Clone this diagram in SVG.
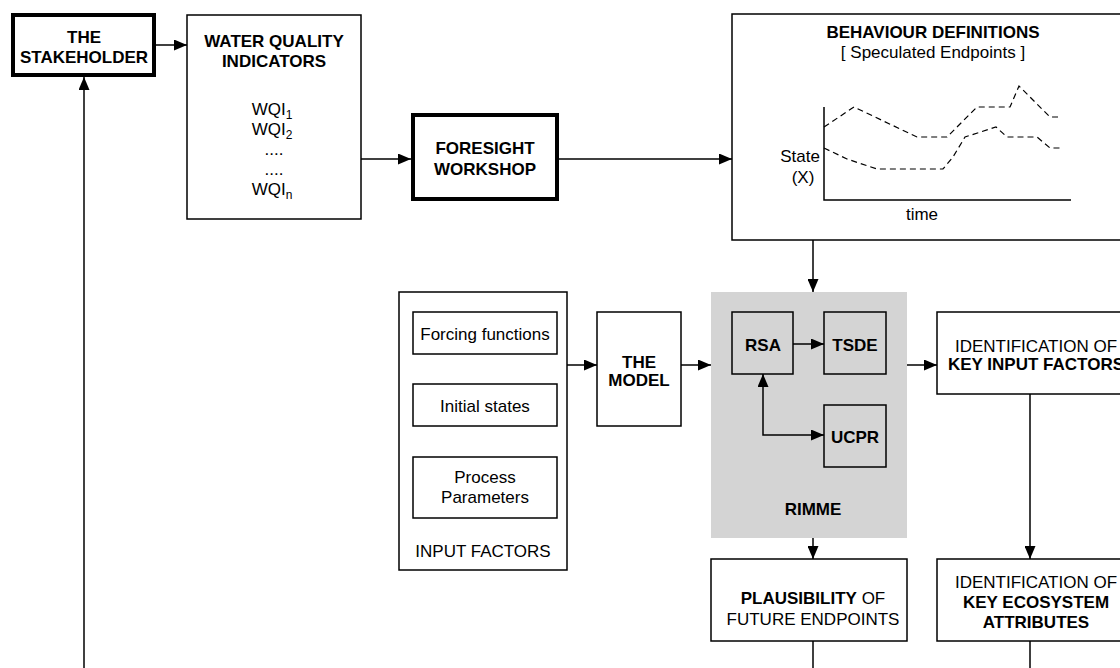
<svg xmlns="http://www.w3.org/2000/svg" width="1120" height="668" viewBox="0 0 1120 668">
<style>
text{font-family:"Liberation Sans",Arial,sans-serif;font-size:17px;fill:#000;text-anchor:middle}
.b{font-weight:bold}
.box{fill:#fff;stroke:#000;stroke-width:1.5}
.thick{fill:#fff;stroke:#000;stroke-width:4}
.sub{fill:none;stroke:#000;stroke-width:1.5}
.gbox{fill:#d4d4d4;stroke:none}
.con{fill:none;stroke:#000;stroke-width:1.5}
.dash{fill:none;stroke:#000;stroke-width:1.2;stroke-dasharray:6,4}
</style>
<defs>
<marker id="ah" markerUnits="userSpaceOnUse" markerWidth="14" markerHeight="11" refX="13" refY="5.5" orient="auto-start-reverse">
<path d="M0,0 L13,5.5 L0,11 z" fill="#000"/>
</marker>
</defs>
<rect width="1120" height="668" fill="#fff"/>

<g id="stakeholder">
<rect class="thick" x="13" y="15" width="141" height="60"/>
<text class="b" x="84" y="43">THE</text>
<text class="b" x="84" y="63">STAKEHOLDER</text>
</g>

<g id="wqi">
<rect class="box" x="187" y="15" width="174" height="204"/>
<text class="b" x="274" y="47">WATER QUALITY</text>
<text class="b" x="274" y="67">INDICATORS</text>
<text x="272" y="115">WQI<tspan font-size="12" dy="4">1</tspan></text>
<text x="272" y="135">WQI<tspan font-size="12" dy="4">2</tspan></text>
<text x="274" y="155">....</text>
<text x="274" y="175">....</text>
<text x="272" y="195">WQI<tspan font-size="12" dy="4">n</tspan></text>
</g>

<g id="foresight">
<rect class="thick" x="413" y="115" width="144" height="84"/>
<text class="b" x="485" y="154">FORESIGHT</text>
<text class="b" x="485" y="175">WORKSHOP</text>
</g>

<g id="behaviour">
<rect class="box" x="732" y="14" width="400" height="226"/>
<text class="b" x="933" y="38">BEHAVIOUR DEFINITIONS</text>
<text x="933" y="58">[ Speculated Endpoints ]</text>
<text x="800" y="162">State</text>
<text x="803" y="183">(X)</text>
<text x="922" y="220">time</text>
<path d="M824,107 V200 H1071" fill="none" stroke="#000" stroke-width="1.5"/>
<polyline class="dash" points="824,127 854,107 917,137 947,137 977,107 1010,107 1019,86 1050,117 1060,117"/>
<polyline class="dash" points="824,148 847,159 877,169 943,169 953,157 965,137 996,127 1007,137 1037,137 1050,148 1060,148"/>
</g>

<g id="input-factors">
<rect class="box" x="399" y="292" width="168" height="278"/>
<rect class="sub" x="413" y="312" width="144" height="42"/>
<text x="485" y="340">Forcing functions</text>
<rect class="sub" x="413" y="384" width="144" height="42"/>
<text x="485" y="412">Initial states</text>
<rect class="sub" x="413" y="457" width="144" height="61"/>
<text x="485" y="483">Process</text>
<text x="485" y="503">Parameters</text>
<text x="483" y="557">INPUT FACTORS</text>
</g>

<g id="model">
<rect class="box" x="597" y="312" width="84" height="114"/>
<text class="b" x="639" y="368">THE</text>
<text class="b" x="639" y="386">MODEL</text>
</g>

<g id="rimme">
<rect class="gbox" x="711" y="292" width="196" height="246"/>
<text class="b" x="813" y="515" font-size="20">RIMME</text>
</g>
<g id="rsa">
<rect class="sub" x="732" y="312" width="61" height="62"/>
<text class="b" x="763" y="351">RSA</text>
</g>
<g id="tsde">
<rect class="sub" x="824" y="312" width="62" height="62"/>
<text class="b" x="855" y="351">TSDE</text>
</g>
<g id="ucpr">
<rect class="sub" x="824" y="405" width="62" height="62"/>
<text class="b" x="855" y="443">UCPR</text>
</g>

<g id="key-input">
<rect class="box" x="937" y="312" width="196" height="82"/>
<text x="1036" y="352">IDENTIFICATION OF</text>
<text class="b" x="1036" y="370">KEY INPUT FACTORS</text>
</g>

<g id="plausibility">
<rect class="box" x="711" y="559" width="196" height="82"/>
<text x="813" y="604"><tspan class="b">PLAUSIBILITY</tspan> OF</text>
<text x="813" y="625">FUTURE ENDPOINTS</text>
</g>

<g id="key-ecosystem">
<rect class="box" x="937" y="559" width="196" height="82"/>
<text x="1036" y="588">IDENTIFICATION OF</text>
<text class="b" x="1036" y="608">KEY ECOSYSTEM</text>
<text class="b" x="1036" y="628">ATTRIBUTES</text>
</g>

<g id="connectors">
<line class="con" x1="156" y1="45" x2="187" y2="45" marker-end="url(#ah)"/>
<line class="con" x1="361" y1="159" x2="411" y2="159" marker-end="url(#ah)"/>
<line class="con" x1="559" y1="159" x2="732" y2="159" marker-end="url(#ah)"/>
<line class="con" x1="813" y1="240" x2="813" y2="292" marker-end="url(#ah)"/>
<line class="con" x1="567" y1="365" x2="597" y2="365" marker-end="url(#ah)"/>
<line class="con" x1="681" y1="365" x2="711" y2="365" marker-end="url(#ah)"/>
<line class="con" x1="793" y1="344" x2="824" y2="344" marker-end="url(#ah)"/>
<path class="con" d="M763,374 V435 H824" marker-start="url(#ah)" marker-end="url(#ah)"/>
<line class="con" x1="907" y1="365" x2="937" y2="365" marker-end="url(#ah)"/>
<line class="con" x1="1030" y1="394" x2="1030" y2="559" marker-end="url(#ah)"/>
<line class="con" x1="813" y1="538" x2="813" y2="559" marker-end="url(#ah)"/>
<line class="con" x1="813" y1="641" x2="813" y2="668"/>
<line class="con" x1="1030" y1="641" x2="1030" y2="668"/>
<line class="con" x1="84" y1="668" x2="84" y2="77" stroke-width="2" marker-end="url(#ah)"/>
</g>
</svg>
